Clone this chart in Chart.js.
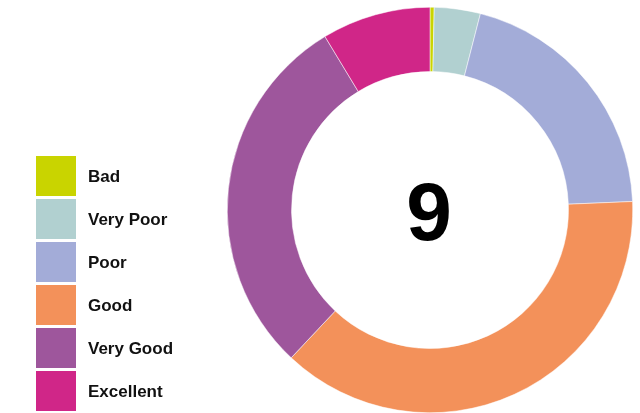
<!DOCTYPE html>
<html>
<head>
<meta charset="utf-8">
<script src="https://cdn.jsdelivr.net/npm/chart.js@4/dist/chart.umd.min.js"></script>
<style>
  html, body { margin: 0; padding: 0; background: #fff; }
  #wrap { width: 640px; height: 413px; }
</style>
</head>
<body>
<div id="wrap"><canvas id="chart" width="640" height="413"></canvas></div>
<script>
const labels = ['Bad', 'Very Poor', 'Poor', 'Good', 'Very Good', 'Excellent'];
const values = [1, 11, 61, 113, 88, 26];
const colors = ['#c9d400', '#b1d0d0', '#a3acd8', '#f3915a', '#9e569c', '#d02688'];
const centerLabel = '9';

// legend boxes + labels on the left, drawn from the dataset
const sideLegend = {
  id: 'sideLegend',
  afterDraw(chart) {
    const ctx = chart.ctx;
    const ds = chart.data.datasets[0];
    ctx.save();
    chart.data.labels.forEach((lab, i) => {
      const y = 156 + i * 43;
      ctx.fillStyle = ds.backgroundColor[i];
      ctx.fillRect(36, y, 40, 40);
      ctx.fillStyle = '#111';
      ctx.font = 'bold 17px "Liberation Sans", Arial, sans-serif';
      ctx.textBaseline = 'middle';
      ctx.textAlign = 'left';
      ctx.fillText(lab, 88, y + 21);
    });
    ctx.restore();
  }
};

const centerText = {
  id: 'centerText',
  afterDraw(chart) {
    const arc = chart.getDatasetMeta(0).data[0];
    const ctx = chart.ctx;
    ctx.save();
    ctx.fillStyle = '#000';
    ctx.font = 'bold 82px "Liberation Sans", Arial, sans-serif';
    ctx.textAlign = 'center';
    ctx.textBaseline = 'alphabetic';
    ctx.fillText(centerLabel, arc.x - 1, arc.y + 30);
    ctx.restore();
  }
};

new Chart(document.getElementById('chart'), {
  type: 'doughnut',
  data: {
    labels: labels,
    datasets: [{
      data: values,
      backgroundColor: colors,
      borderColor: '#fff',
      borderWidth: 0.5,
      hoverOffset: 0
    }]
  },
  options: {
    responsive: false,
    animation: false,
    cutout: '68.3%',
    layout: { padding: { left: 227, right: 7, top: 7, bottom: 0 } },
    plugins: {
      legend: { display: false },
      tooltip: { enabled: false }
    }
  },
  plugins: [sideLegend, centerText]
});
</script>
</body>
</html>
